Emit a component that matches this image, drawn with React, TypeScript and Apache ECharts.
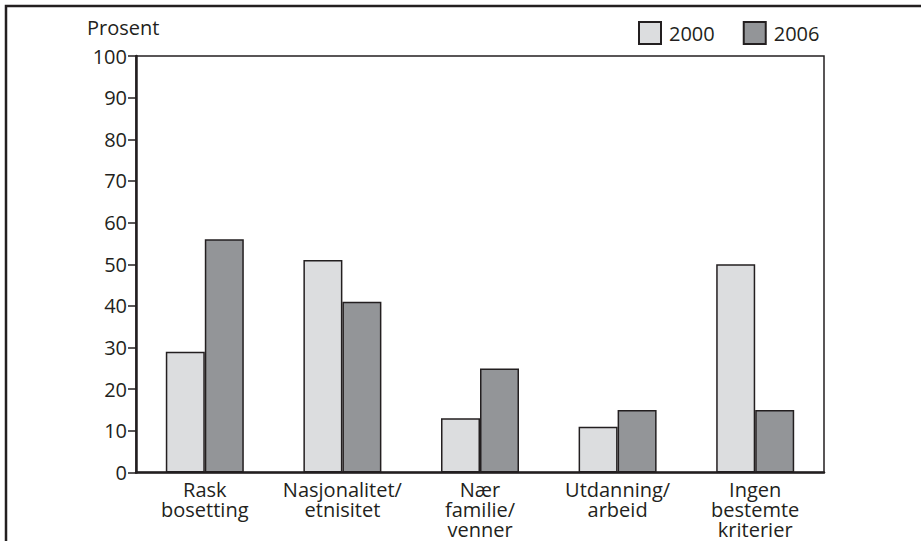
import React, { useEffect, useRef } from "react";
import * as echarts from "echarts";

const categories = [
  "Rask\nbosetting",
  "Nasjonalitet/\netnisitet",
  "Nær\nfamilie/\nvenner",
  "Utdanning/\narbeid",
  "Ingen\nbestemte\nkriterier",
];
const seriesNames = ["2000", "2006"];
const values2000 = [29, 51, 13, 11, 50];
const values2006 = [56, 41, 25, 15, 15];
const yTicks = { min: 0, max: 100, interval: 10 };
const yAxisTitle = "Prosent";

const INK = "#231f20";
const FONT = "'Open Sans', 'Noto Sans', sans-serif";
const FS = 20;

export default function App() {
  const ref = useRef<HTMLDivElement>(null);
  useEffect(() => {
    if (!ref.current) return;
    const chart = echarts.init(ref.current, undefined, { renderer: "svg" });
    chart.setOption({
      animation: false,
      backgroundColor: "#ffffff",
      textStyle: { fontFamily: FONT, color: INK },
      grid: {
        left: 136,
        right: 97,
        top: 56,
        bottom: 68.5,
        show: true,
        borderColor: INK,
        borderWidth: 1.5,
        backgroundColor: "transparent",
      },
      legend: {
        top: 21,
        left: 638,
        padding: 0,
        itemWidth: 22,
        itemHeight: 22,
        itemGap: 28,
        icon: "rect",
        textStyle: { fontSize: FS, color: INK, fontFamily: FONT, padding: [0, 0, 0, 3] },
        data: seriesNames,
      },
      xAxis: {
        type: "category",
        data: categories,
        axisLine: { lineStyle: { color: INK, width: 2.5 } },
        axisTick: { show: false },
        axisLabel: {
          color: INK,
          fontSize: FS,
          lineHeight: 20,
          margin: 7,
          fontFamily: FONT,
          interval: 0,
        },
      },
      yAxis: {
        type: "value",
        min: yTicks.min,
        max: yTicks.max,
        interval: yTicks.interval,
        axisLine: { show: true, lineStyle: { color: INK, width: 2.5 } },
        axisTick: { show: true, length: 8, lineStyle: { color: INK, width: 1.5 } },
        splitLine: { show: false },
        axisLabel: { color: INK, fontSize: FS, margin: 9, fontFamily: FONT },
      },
      series: [
        {
          name: seriesNames[0],
          type: "bar",
          data: values2000,
          barWidth: 39,
          barGap: "0%",
          itemStyle: { color: "#dcdddf", borderColor: INK, borderWidth: 1.5 },
        },
        {
          name: seriesNames[1],
          type: "bar",
          data: values2006,
          barWidth: 39,
          barGap: "0%",
          itemStyle: { color: "#939598", borderColor: INK, borderWidth: 1.5 },
        },
      ],
      graphic: [
        {
          type: "polyline",
          shape: { points: [[6, 545], [6, 6], [925, 6]] },
          style: { stroke: INK, lineWidth: 2.5, fill: null },
          silent: true,
        },
        {
          type: "text",
          left: 87,
          top: 17,
          style: { text: yAxisTitle, fontSize: FS, fill: INK, fontFamily: FONT },
          silent: true,
        },
      ],
    });
    return () => chart.dispose();
  }, []);
  return <div ref={ref} style={{ width: 921, height: 541, position: "absolute", left: 0, top: 0 }} />;
}
